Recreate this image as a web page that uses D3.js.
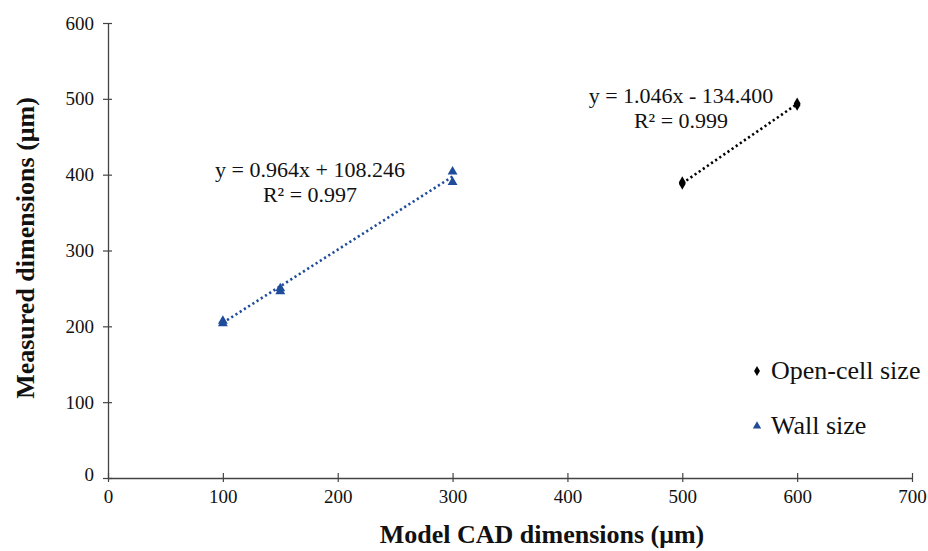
<!DOCTYPE html>
<html>
<head>
<meta charset="utf-8">
<script src="https://cdn.jsdelivr.net/npm/d3@7"></script>
<style>
body { margin: 0; background: #fff; }
svg text { font-family: "Liberation Serif", "Times New Roman", serif; fill: #111; }
</style>
</head>
<body>
<div id="chart"></div>
<script>
var width = 928,
    height = 551;

// data
var xTicks = [0, 100, 200, 300, 400, 500, 600, 700];
var yTicks = [0, 100, 200, 300, 400, 500, 600];
var openCellX = [500, 500, 600, 600];
var openCellY = [388, 390, 492, 494];
var wallX = [100, 100, 150, 150, 300, 300];
var wallY = [204, 207, 246, 250, 390, 404];
var openCellFit = {slope: 1.046, icept: -134.400, label: 'y = 1.046x - 134.400', r2: 'R² = 0.999'};
var wallFit = {slope: 0.964, icept: 108.246, label: 'y = 0.964x + 108.246', r2: 'R² = 0.997'};

var svg = d3.select('#chart').append('svg')
    .attr('width', width)
    .attr('height', height);

var x = d3.scaleLinear().domain([0, 700]).range([108, 912]);
var y = d3.scaleLinear().domain([0, 600]).range([478, 23]);

// axes, ticks cross the line
var xAxis = svg.append('g')
    .attr('transform', 'translate(0,' + y(0) + ')')
    .call(d3.axisBottom(x).tickValues(xTicks).tickSize(4).tickSizeOuter(0).tickPadding(8));
xAxis.selectAll('.tick line').attr('y1', -5).attr('y2', 4);
var yAxis = svg.append('g')
    .attr('transform', 'translate(' + x(0) + ',0)')
    .call(d3.axisLeft(y).tickValues(yTicks).tickSize(5).tickSizeOuter(0).tickPadding(9));
yAxis.selectAll('.tick line').attr('x1', 4).attr('x2', -5);

svg.selectAll('g').attr('font-family', null).attr('font-size', null);
svg.selectAll('.domain').attr('stroke', '#444').attr('stroke-width', 1.3);
svg.selectAll('.tick line').attr('stroke', '#444').attr('stroke-width', 1.2);
svg.selectAll('.tick text')
    .attr('font-family', 'Liberation Serif')
    .attr('font-size', 19)
    .style('font-family', 'Liberation Serif')
    .style('font-size', '19px')
    .style('fill', '#111');
yAxis.selectAll('.tick text').filter(function(d) { return d === 0; }).attr('dy', '0.15em');

svg.append('text')
    .attr('x', 542).attr('y', 543)
    .attr('text-anchor', 'middle')
    .style('font-size', '26px').style('font-weight', 'bold')
    .text('Model CAD dimensions (μm)');
svg.append('text')
    .attr('transform', 'translate(34,248) rotate(-90)')
    .attr('text-anchor', 'middle')
    .style('font-size', '26px').style('font-weight', 'bold')
    .text('Measured dimensions (μm)');

var blue = '#1f4b9b';

function trend(xs, fit, color) {
    var x0 = d3.min(xs), x1 = d3.max(xs);
    svg.append('line')
        .attr('x1', x(x0)).attr('y1', y(fit.slope * x0 + fit.icept))
        .attr('x2', x(x1)).attr('y2', y(fit.slope * x1 + fit.icept))
        .attr('stroke', color)
        .attr('stroke-width', 2.6)
        .attr('stroke-dasharray', '2.2,2.8');
}
trend(wallX, wallFit, blue);
trend(openCellX, openCellFit, '#000');

var diamond = d3.symbol().type(d3.symbolDiamond).size(40);
var triangle = d3.symbol().type(d3.symbolTriangle).size(42);

svg.append('g').selectAll('path').data(openCellX).enter().append('path')
    .attr('d', diamond)
    .attr('fill', '#000')
    .attr('transform', function(d, i) { return 'translate(' + x(d) + ',' + y(openCellY[i]) + ')'; });
svg.append('g').selectAll('path').data(wallX).enter().append('path')
    .attr('d', triangle)
    .attr('fill', blue)
    .attr('transform', function(d, i) { return 'translate(' + x(d) + ',' + y(wallY[i]) + ')'; });

// equations
function eqn(fit, cx, cy) {
    svg.append('text').attr('x', cx).attr('y', cy)
        .attr('text-anchor', 'middle').style('font-size', '22px').text(fit.label);
    svg.append('text').attr('x', cx).attr('y', cy + 25)
        .attr('text-anchor', 'middle').style('font-size', '22px').text(fit.r2);
}
eqn(wallFit, 310, 177);
eqn(openCellFit, 681, 103);

// legend
var legend = svg.append('g');
legend.append('path').attr('d', d3.symbol().type(d3.symbolDiamond).size(30))
    .attr('fill', '#000').attr('transform', 'translate(757,371)');
legend.append('text').attr('x', 771).attr('y', 379).style('font-size', '26px').text('Open-cell size');
legend.append('path').attr('d', d3.symbol().type(d3.symbolTriangle).size(30))
    .attr('fill', blue).attr('transform', 'translate(757,426)');
legend.append('text').attr('x', 771).attr('y', 434).style('font-size', '26px').text('Wall size');
</script>
</body>
</html>
